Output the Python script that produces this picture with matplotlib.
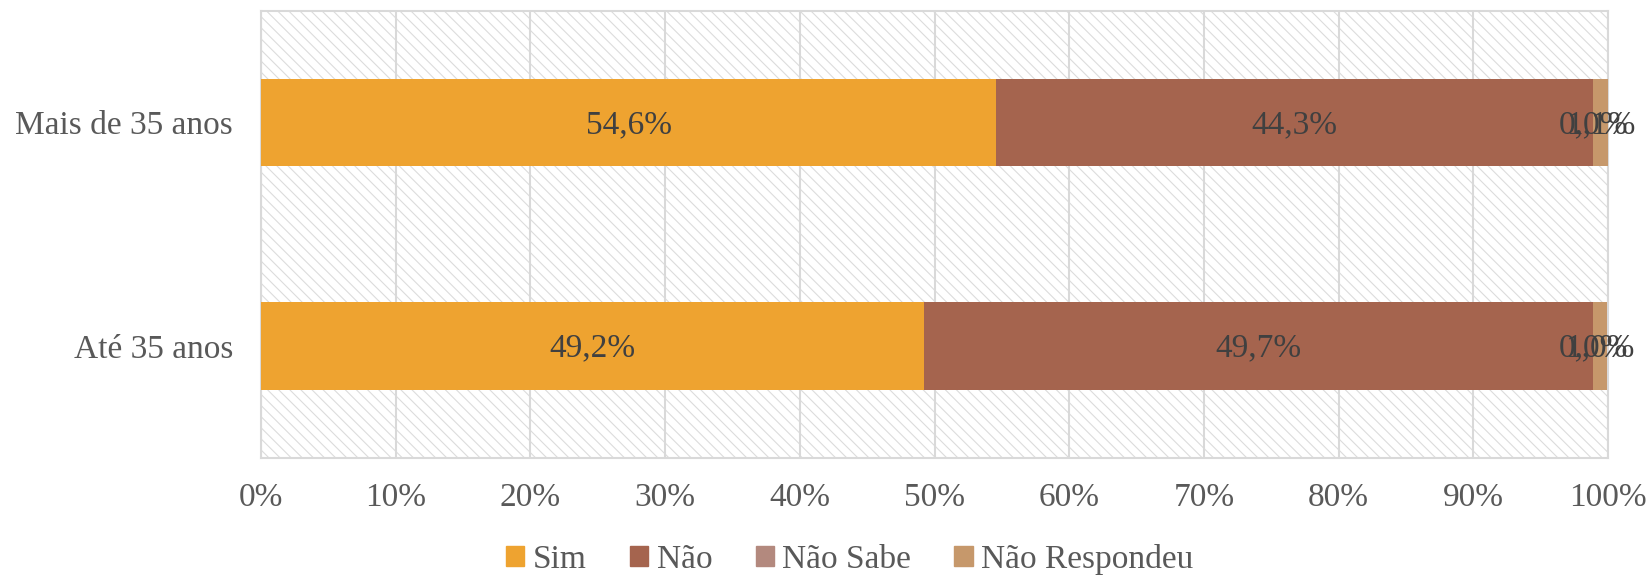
import matplotlib.pyplot as plt
from matplotlib.patches import Patch, Rectangle
from matplotlib.ticker import FuncFormatter

plt.rcParams['font.family'] = ['Liberation Serif', 'DejaVu Serif']
plt.rcParams['hatch.color'] = '#dcdcdc'
plt.rcParams['hatch.linewidth'] = 0.8

# data (percent of each age group)
groups = ['Até 35 anos', 'Mais de 35 anos']
series = ['Sim', 'Não', 'Não Sabe', 'Não Respondeu']
sim = [49.2, 54.6]
nao = [49.7, 44.3]
nao_sabe = [0.0, 0.0]
nao_respondeu = [1.0, 1.1]
colors = ['#EEA330', '#A5644E', '#B3897E', '#C6986B']

values = [sim, nao, nao_sabe, nao_respondeu]
FS = 24

fig = plt.figure(figsize=(16.5, 5.76), dpi=100)
ax = fig.add_axes([261 / 1650, 1 - 458 / 576, (1608 - 261) / 1650, (458 - 10.5) / 576])

# hatched background like the excel plot area
ax.add_patch(Rectangle((0, 0), 1, 1, transform=ax.transAxes, facecolor='white',
                       hatch='\\\\\\', edgecolor='#dcdcdc', linewidth=0, zorder=0))

y = range(len(groups))
left = [0, 0]
for vals, name, col in zip(values, series, colors):
    ax.barh(y, vals, left=left, height=0.39, color=col, label=name, zorder=3)
    for i, v in enumerate(vals):
        ax.text(left[i] + v / 2, i - 0.01, f'{v:.1f}%'.replace('.', ','), ha='center', va='center',
                fontsize=FS, color='#404040', zorder=4)
    left = [l + v for l, v in zip(left, vals)]

ax.set_xlim(0, 100)
ax.set_ylim(-0.5, 1.5)
ax.set_xticks(range(0, 101, 10))
ax.xaxis.set_major_formatter(FuncFormatter(lambda v, p: f'{v:.0f}%'))
ax.set_yticks(list(y))
ax.set_yticklabels(groups)
ax.tick_params(axis='x', length=0, pad=18, labelsize=FS, labelcolor='#595959')
ax.tick_params(axis='y', length=0, pad=20, labelsize=FS, labelcolor='#595959')
ax.grid(axis='x', color='#d9d9d9', linewidth=1.5, zorder=1)
ax.set_axisbelow(True)
for s in ax.spines.values():
    s.set_color('#d9d9d9')
    s.set_linewidth(1.5)

handles = [Patch(color=c) for c in colors]
fig.legend(handles, series, loc='lower center', bbox_to_anchor=(0.515, -0.05), ncol=4,
           frameon=False, fontsize=FS, labelcolor='#595959', handlelength=0.55,
           handleheight=0.55, handletextpad=0.25, columnspacing=1.3)

fig.savefig('out.png', dpi=100)
